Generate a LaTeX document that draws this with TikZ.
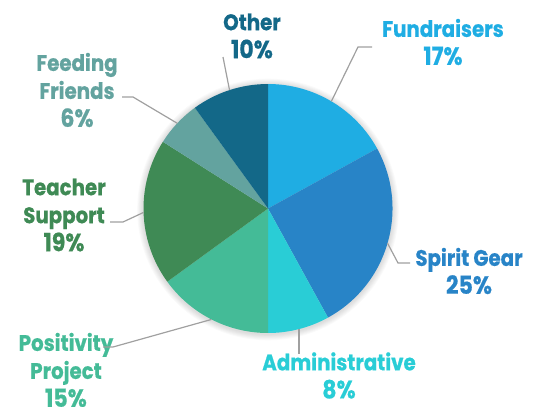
\documentclass[tikz,border=0pt]{standalone}
\usepackage{fontspec}
\usetikzlibrary{calc}
\setmainfont{Poppins}[FakeStretch=0.88, BoldFeatures={FakeBold=0.6}]
\definecolor{cFund}{HTML}{1FADE3}
\definecolor{cSpirit}{HTML}{2884C7}
\definecolor{cAdmin}{HTML}{29CDD6}
\definecolor{cPos}{HTML}{44BB97}
\definecolor{cTeach}{HTML}{3F8A55}
\definecolor{cFeed}{HTML}{63A39F}
\definecolor{cOther}{HTML}{136888}
\definecolor{cLead}{HTML}{A0A0A0}
\newcommand{\pct}[1]{{\fontsize{25}{28}\selectfont #1}}
\begin{document}
\begin{tikzpicture}[x=1pt,y=1pt,
  lbl/.style={font=\bfseries\fontsize{22.5}{28}\selectfont, align=center, inner sep=0pt, anchor=center},
  lead/.style={draw=cLead, line width=1.2pt}]
\useasboundingbox (0,0) rectangle (539,-407);
\def\R{124.5}
\coordinate (C) at (268,-208.5);
% soft shadow
\foreach \i in {1,...,7}{
  \fill[black, opacity=0.018] ([yshift=-1pt]C) circle ({\R+\i*0.9});
}
% slices
\fill[cFund]   (C) -- ++(90:\R)    arc[start angle=90,    end angle=28.8,   radius=\R] -- cycle;
\fill[cSpirit] (C) -- ++(28.8:\R)  arc[start angle=28.8,  end angle=-61.2,  radius=\R] -- cycle;
\fill[cAdmin]  (C) -- ++(-61.2:\R) arc[start angle=-61.2, end angle=-90,    radius=\R] -- cycle;
\fill[cPos]    (C) -- ++(-90:\R)   arc[start angle=-90,   end angle=-144,   radius=\R] -- cycle;
\fill[cTeach]  (C) -- ++(-144:\R)  arc[start angle=-144,  end angle=-212.4, radius=\R] -- cycle;
\fill[cFeed]   (C) -- ++(-212.4:\R) arc[start angle=-212.4, end angle=-234, radius=\R] -- cycle;
\fill[cOther]  (C) -- ++(-234:\R)  arc[start angle=-234,  end angle=-270,   radius=\R] -- cycle;
% edge points
\coordinate (eFund)   at ($(C)+(59.4:\R)$);
\coordinate (eSpirit) at ($(C)+(-16.2:\R)$);
\coordinate (eAdmin)  at ($(C)+(-75.6:\R)$);
\coordinate (ePos)    at ($(C)+(-117:\R)$);
\coordinate (eTeach)  at ($(C)+(-178.2:\R)$);
\coordinate (eFeed)   at ($(C)+(-223.2:\R)$);
\coordinate (eOther)  at ($(C)+(-252:\R)$);
% labels
\node[lbl, text=cOther] (lOther) at (252,-36) {Other\\\pct{10\%}};
\node[lbl, text=cFund] (lFund) at (443,-42) {Fundraisers\\\pct{17\%}};
\node[lbl, text=cFeed] (lFeed) at (77,-90) {Feeding\\Friends\\\pct{6\%}};
\node[lbl, text=cTeach] (lTeach) at (64,-215) {Teacher\\Support\\\pct{19\%}};
\node[lbl, text=cPos] (lPos) at (66,-370) {Positivity\\Project\\\pct{15\%}};
\node[lbl, text=cAdmin] (lAdmin) at (339,-375.5) {Administrative\\\pct{8\%}};
\node[lbl, text=cSpirit] (lSpirit) at (469,-271) {Spirit Gear\\\pct{25\%}};
% leader coordinates
\coordinate (kFund) at (358,-47);   \coordinate (tFund) at (372,-47);
\coordinate (tOther) at (223,-57);
\coordinate (kFeed) at (133,-97);   \coordinate (tFeed) at (122,-97);
\coordinate (kTeach) at (123,-222); \coordinate (tTeach) at (110,-222);
\coordinate (kPos) at (113,-347);   \coordinate (tPos) at (103,-347);
\coordinate (tAdmin) at ($(eAdmin)+(0,-25)$);
\coordinate (kSpirit) at (398,-263); \coordinate (tSpirit) at (410,-263);
% leaders
\draw[lead] (eFund) -- (kFund) -- (tFund);
\draw[lead] (eOther) -- (tOther);
\draw[lead] (eFeed) -- (kFeed) -- (tFeed);
\draw[lead] (eTeach) -- (kTeach) -- (tTeach);
\draw[lead] (ePos) -- (kPos) -- (tPos);
\draw[lead] (eAdmin) -- (tAdmin);
\draw[lead] (eSpirit) -- (kSpirit) -- (tSpirit);
\end{tikzpicture}
\end{document}
